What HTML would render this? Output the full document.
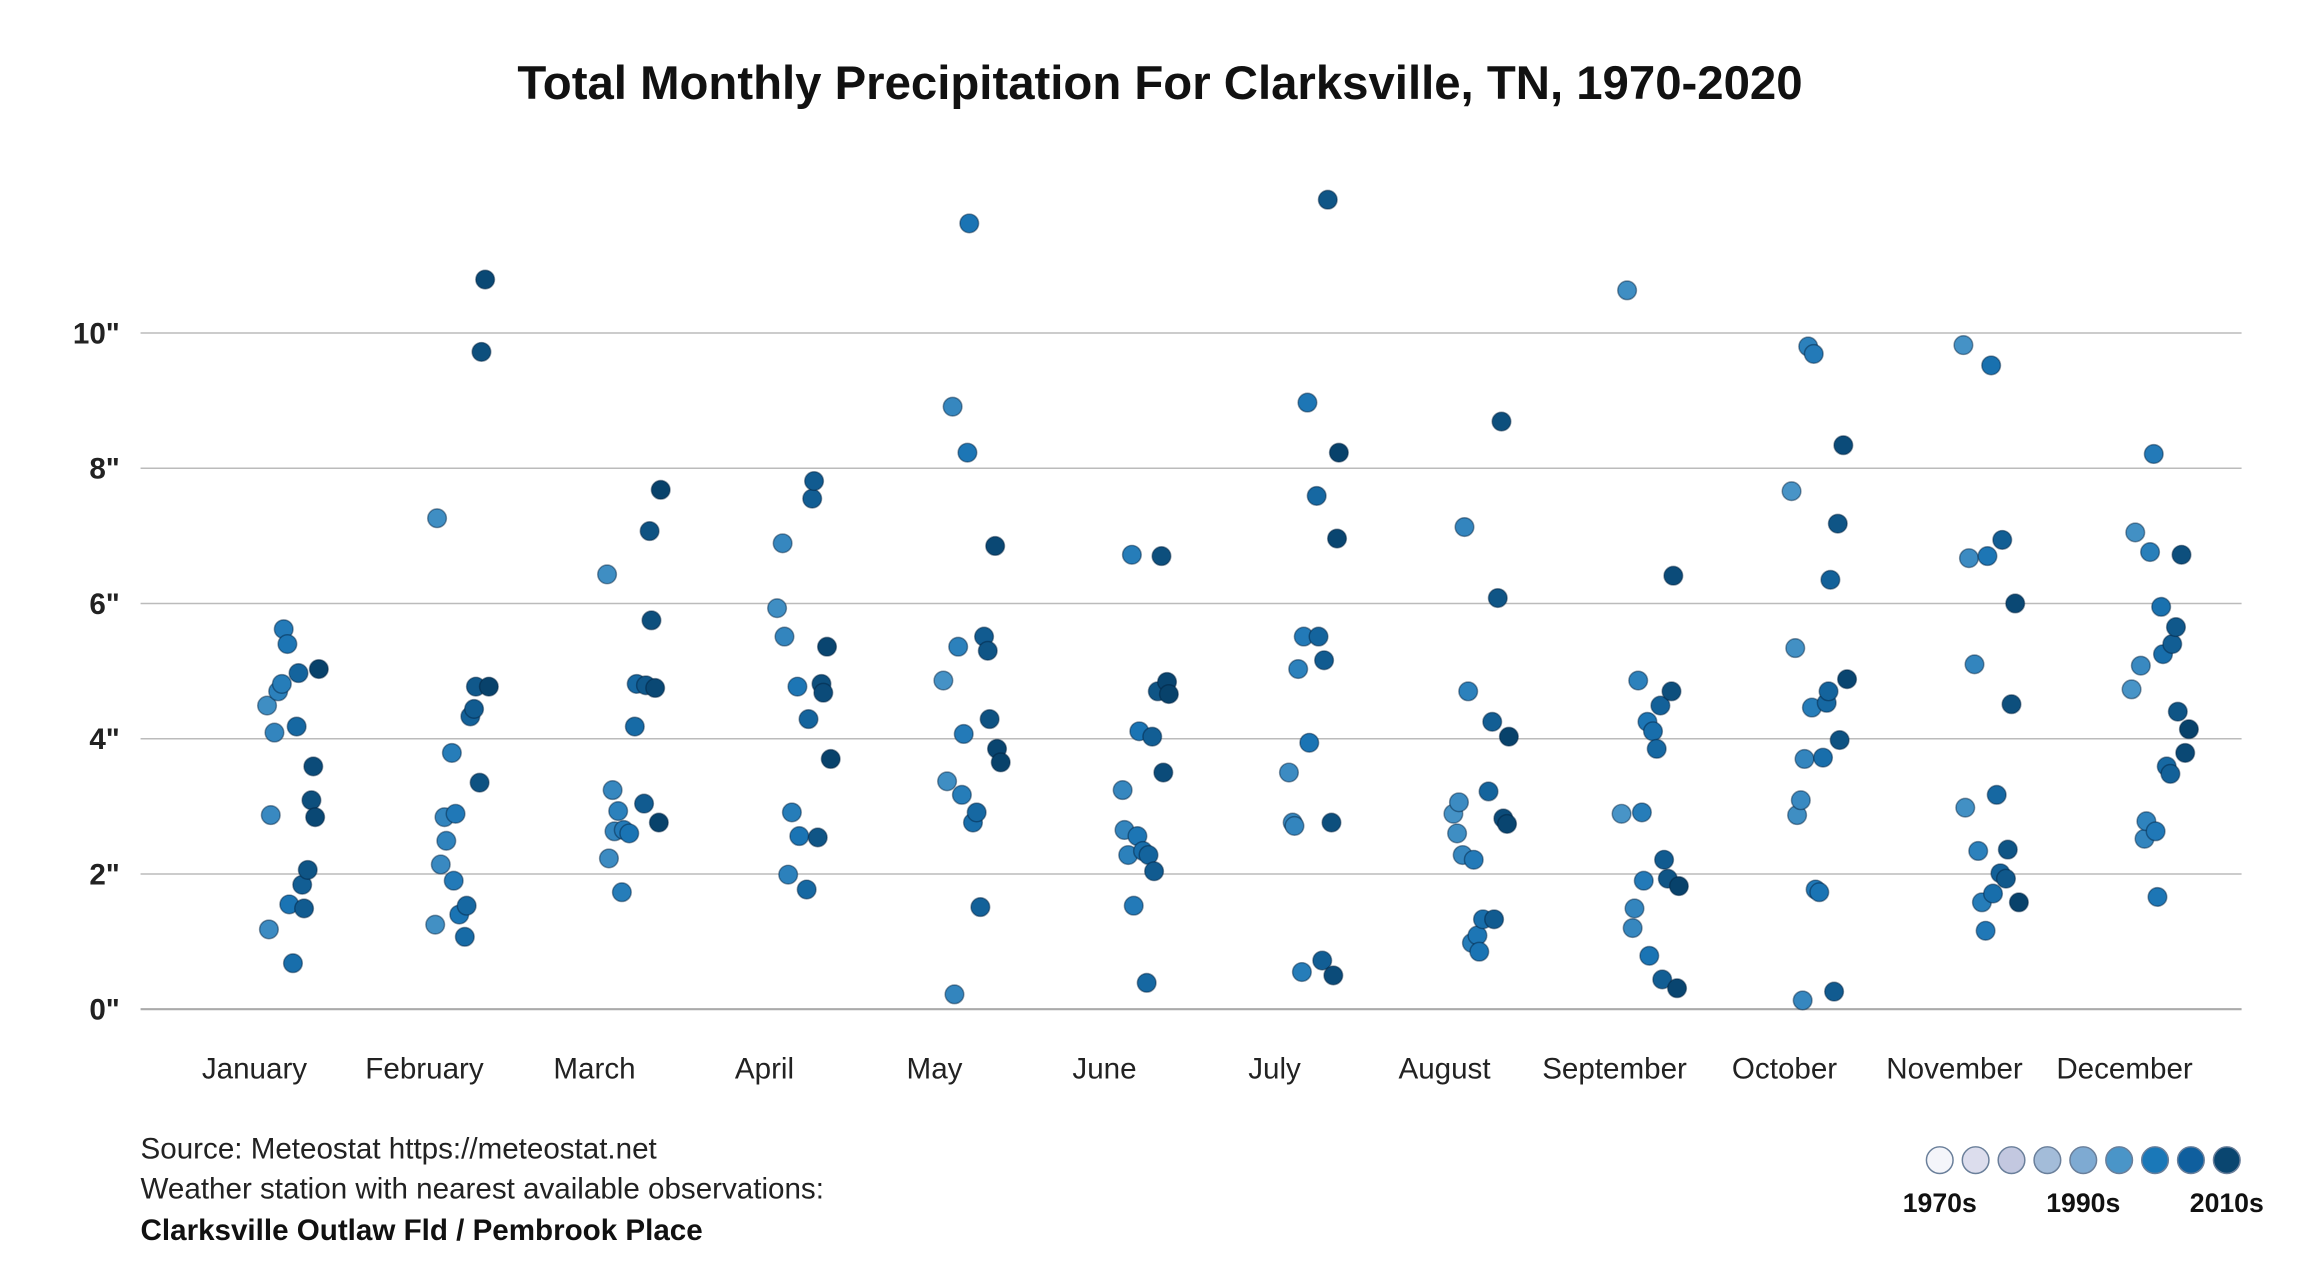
<!DOCTYPE html>
<html><head><meta charset="utf-8"><style>
html,body{margin:0;padding:0;background:#fff}
svg{display:block}
text{font-family:"Liberation Sans",sans-serif}
</style></head><body>
<svg id="chart" width="2320" height="1280" viewBox="0 0 1568 865" preserveAspectRatio="none" xmlns="http://www.w3.org/2000/svg">
<rect width="1568" height="865" fill="#fff"/>
<text x="784" y="67" text-anchor="middle" font-size="32" font-weight="bold" fill="#111">Total Monthly Precipitation For Clarksville, TN, 1970-2020</text>
<g id="grid"></g><g id="ylabels"></g><g id="xlabels"></g><g id="dots"></g>
<g font-size="20" fill="#222">
<text x="95" y="783">Source: Meteostat https://meteostat.net</text>
<text x="95" y="810">Weather station with nearest available observations:</text>
<text x="95" y="838" font-weight="bold" fill="#111">Clarksville Outlaw Fld / Pembrook Place</text>
</g>
<g id="legend"></g>
</svg>
<script>
const months=["January","February","March","April","May","June","July","August","September","October","November","December"];
const yTicks=[0,2,4,6,8,10];
const yTickLabels=['0"','2"','4"','6"','8"','10"'];
const legendColors=["#f4f5fa","#dcdded","#c3c8e0","#a3bcd9","#7eaad2","#4a95c8","#1a78b8","#0f5f9e","#0a4670"];
const legendLabels=["1970s","1990s","2010s"];
const jan=[[1992,4.49],[1993,1.18],[1994,2.87],[1996,4.09],[1998,4.70],[2000,4.81],[2001,5.62],[2003,5.40],[2004,1.55],[2006,0.68],[2008,4.18],[2009,4.97],[2011,1.84],[2012,1.49],[2014,2.06],[2016,3.09],[2017,3.59],[2018,2.84],[2020,5.03]];
const feb=[[1991,1.25],[1992,7.26],[1994,2.14],[1996,2.84],[1997,2.49],[2000,3.79],[2001,1.90],[2002,2.89],[2004,1.40],[2007,1.07],[2008,1.53],[2010,4.33],[2012,4.44],[2013,4.77],[2015,3.35],[2016,9.72],[2018,10.79],[2020,4.77]];
const mar=[[1992,6.43],[1993,2.23],[1995,3.24],[1996,2.63],[1998,2.93],[2000,1.73],[2001,2.65],[2004,2.60],[2007,4.18],[2008,4.81],[2012,3.04],[2013,4.79],[2015,7.07],[2016,5.75],[2018,4.75],[2020,2.76],[2021,7.68]];
const apr=[[1992,5.93],[1995,6.89],[1996,5.51],[1998,1.99],[2000,2.91],[2003,4.77],[2004,2.56],[2008,1.77],[2009,4.29],[2011,7.55],[2012,7.81],[2014,2.54],[2016,4.81],[2017,4.68],[2019,5.36],[2021,3.70]];
const may=[[1990,4.86],[1992,3.37],[1995,8.91],[1996,0.22],[1998,5.36],[2000,3.17],[2001,4.07],[2003,8.23],[2004,11.62],[2006,2.76],[2008,2.91],[2010,1.51],[2012,5.51],[2014,5.30],[2015,4.29],[2018,6.85],[2019,3.85],[2021,3.65]];
const jun=[[1995,3.24],[1996,2.65],[1998,2.28],[2000,6.72],[2001,1.53],[2003,2.56],[2004,4.11],[2006,2.34],[2008,0.39],[2009,2.28],[2011,4.03],[2012,2.04],[2014,4.70],[2016,6.70],[2017,3.50],[2019,4.84],[2020,4.66]];
const jul=[[1993,3.50],[1995,2.76],[1996,2.71],[1998,5.03],[2000,0.55],[2001,5.51],[2003,8.97],[2004,3.94],[2008,7.59],[2009,5.51],[2011,0.72],[2012,5.16],[2014,11.97],[2016,2.76],[2017,0.50],[2019,6.96],[2020,8.23]];
const aug=[[1990,2.89],[1992,2.60],[1993,3.06],[1995,2.28],[1996,7.13],[1998,4.70],[2000,0.98],[2001,2.21],[2003,1.09],[2004,0.85],[2006,1.33],[2009,3.22],[2011,4.25],[2012,1.33],[2014,6.08],[2016,8.69],[2017,2.82],[2019,2.74],[2020,4.03]];
const sep=[[1989,2.89],[1992,10.63],[1995,1.20],[1996,1.49],[1998,4.86],[2000,2.91],[2001,1.90],[2003,4.25],[2004,0.79],[2006,4.11],[2008,3.85],[2010,4.49],[2011,0.44],[2012,2.21],[2014,1.93],[2016,4.70],[2017,6.41],[2019,0.31],[2020,1.82]];
const oct=[[1989,7.66],[1991,5.34],[1992,2.87],[1994,3.09],[1995,0.13],[1996,3.70],[1998,9.80],[2000,4.46],[2001,9.69],[2002,1.77],[2004,1.73],[2006,3.72],[2008,4.53],[2009,4.70],[2010,6.35],[2012,0.26],[2014,7.18],[2015,3.98],[2017,8.34],[2019,4.88]];
const nov=[[1990,9.82],[1991,2.98],[1993,6.67],[1996,5.10],[1998,2.34],[2000,1.58],[2002,1.16],[2003,6.70],[2005,9.52],[2006,1.71],[2008,3.17],[2010,2.01],[2011,6.94],[2013,1.93],[2014,2.36],[2016,4.51],[2018,6.00],[2020,1.58]];
const dec=[[1989,4.73],[1991,7.05],[1994,5.08],[1996,2.52],[1997,2.78],[1999,6.76],[2001,8.21],[2002,2.63],[2003,1.66],[2005,5.95],[2006,5.25],[2008,3.59],[2010,3.48],[2011,5.40],[2013,5.65],[2014,4.40],[2016,6.72],[2018,3.79],[2020,4.14]];
const monthData=[jan,feb,mar,apr,may,jun,jul,aug,sep,oct,nov,dec];

const NS="http://www.w3.org/2000/svg";
function mk(tag,attrs,parent){const e=document.createElementNS(NS,tag);for(const k in attrs)e.setAttribute(k,attrs[k]);parent.appendChild(e);return e;}
const yScale=v=>682-v*45.7;
const xBand=i=>172+i*114.9;
const xScale=(i,yr)=>xBand(i)+6+(yr-1990)*1.25;
function lerp(a,b,t){return Math.round(a+(b-a)*t);}
function hex(h){return [1,3,5].map(i=>parseInt(h.substr(i,2),16));}
function colorFor(yr){
  const stops=[[1988,"#4b96c8"],[2004,"#1a74b4"],[2020,"#08426b"]];
  let y=Math.max(1988,Math.min(2020,yr));
  let a=stops[0],b=stops[1];if(y>2004){a=stops[1];b=stops[2];}
  const t=(y-a[0])/(b[0]-a[0]);const ca=hex(a[1]),cb=hex(b[1]);
  return "rgb("+[0,1,2].map(k=>lerp(ca[k],cb[k],t)).join(",")+")";
}
const grid=document.getElementById('grid'),yl=document.getElementById('ylabels'),xl=document.getElementById('xlabels'),dots=document.getElementById('dots'),lg=document.getElementById('legend');
yTicks.forEach((v,i)=>{
  const l=mk('line',{x1:95,x2:1515,y1:yScale(v),y2:yScale(v),stroke:v===0?'#aaa':'#bbb','stroke-width':v===0?1.5:1},grid);
  
  
  const t=mk('text',{x:81,y:yScale(v)+7,'text-anchor':'end','font-size':20,'font-weight':'bold',fill:'#222'},yl);
  t.textContent=yTickLabels[i];
  
  
});
months.forEach((m,i)=>{
  const t=mk('text',{x:xBand(i),y:729,'text-anchor':'middle','font-size':20,fill:'#222'},xl);
  t.textContent=m;
  
  
  monthData[i].forEach(d=>{
    const c=mk('circle',{cx:xScale(i,d[0]),cy:yScale(d[1]),r:6.3,fill:colorFor(d[0]),stroke:'rgba(0,30,60,0.45)','stroke-width':1},dots);
    
    
  });
});
legendColors.forEach((col,i)=>{
  const c=mk('circle',{cx:1311+i*24.25,cy:784,r:9,fill:col,stroke:'#6a7f9a','stroke-width':1},lg);
  
  
});
legendLabels.forEach((s,i)=>{
  const t=mk('text',{x:1311+i*97,y:819,'text-anchor':'middle','font-size':18,'font-weight':'bold',fill:'#111'},lg);
  t.textContent=s;
  
  
});
</script>
</body></html>
